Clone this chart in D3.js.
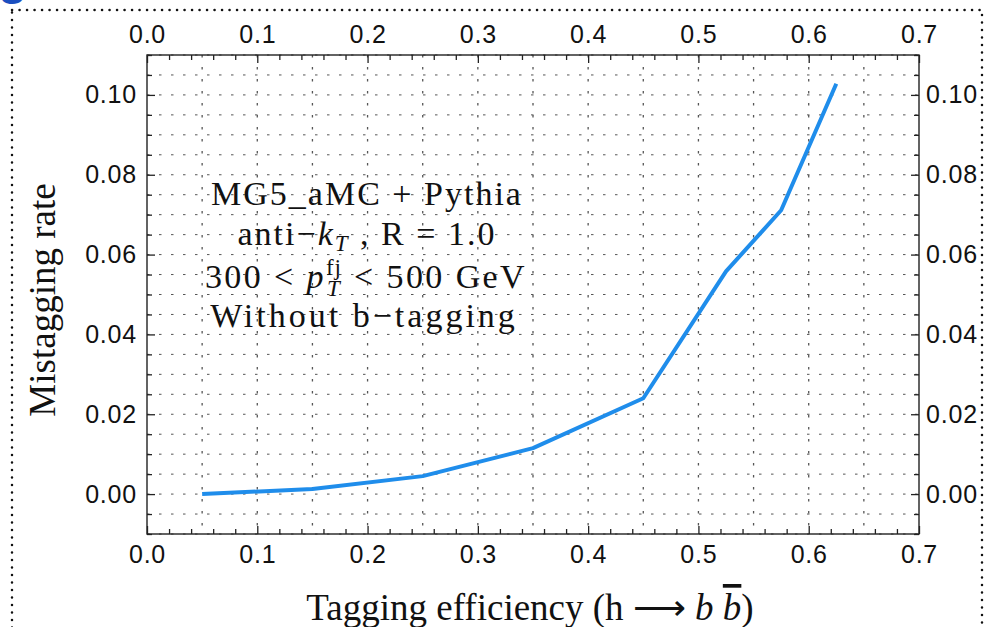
<!DOCTYPE html>
<html>
<head>
<meta charset="utf-8">
<script src="https://cdn.jsdelivr.net/npm/d3@7"></script>
<style>
  html, body { margin: 0; padding: 0; background: #fff; }
  svg { display: block; }
</style>
</head>
<body>
<div id="chart"></div>
<script>
// tagging efficiency vs. mistag rate (no b-tagging)
const efficiency = [0.05, 0.15, 0.25, 0.35, 0.45, 0.525, 0.575, 0.625];
const mistagRate = [0.0000, 0.0013, 0.0045, 0.0115, 0.0240, 0.0558, 0.0711, 0.1028];

const xMajor = [0, 0.1, 0.2, 0.3, 0.4, 0.5, 0.6, 0.7];
const yMajor = [0, 0.02, 0.04, 0.06, 0.08, 0.10];
const xGrid = [0.05, 0.1, 0.15, 0.2, 0.25, 0.3, 0.35, 0.4, 0.45, 0.5, 0.55, 0.6, 0.65];

const width = 987, height = 627;
const plot = {left: 147, right: 919, top: 55, bottom: 534};

const svg = d3.select("#chart").append("svg")
  .attr("width", width)
  .attr("height", height);

svg.append("rect").attr("width", width).attr("height", height).attr("fill", "#fff");

// cut-off heading glyph and dotted panel border
svg.append("text")
  .attr("x", -2).attr("y", -6)
  .attr("font-family", "Liberation Sans, Arial, sans-serif")
  .attr("font-weight", "bold")
  .attr("font-size", 48)
  .attr("fill", "#1a4fc0")
  .text("g");
svg.append("rect")
  .attr("x", 12).attr("y", 10)
  .attr("width", 970).attr("height", 700)
  .attr("fill", "none")
  .attr("stroke", "#111")
  .attr("stroke-width", 2.5)
  .attr("stroke-linecap", "round")
  .attr("stroke-dasharray", "0.1,7.4");

const x = d3.scaleLinear().domain([0, 0.7]).range([plot.left, plot.right]);
const y = d3.scaleLinear().domain([-0.01, 0.11]).range([plot.bottom, plot.top]);

const xMinor = d3.range(0, 0.7001, 0.02).filter(v => xMajor.every(m => Math.abs(m - v) > 1e-6));
const yMinor = d3.range(-0.01, 0.1101, 0.005).filter(v => yMajor.every(m => Math.abs(m - v) > 1e-6));
const yGrid = d3.range(-0.01, 0.1101, 0.005);

// dotted grid
const grid = svg.append("g")
  .attr("stroke", "#555")
  .attr("stroke-width", 1)
  .attr("stroke-dasharray", "2.5,9.5");
grid.selectAll("line.h").data(yGrid).join("line")
  .attr("class", "h")
  .attr("x1", plot.left).attr("x2", plot.right)
  .attr("y1", d => y(d)).attr("y2", d => y(d));
grid.selectAll("line.v").data(xGrid).join("line")
  .attr("class", "v")
  .attr("stroke-width", 1.3)
  .attr("y1", plot.top).attr("y2", plot.bottom)
  .attr("x1", d => x(d)).attr("x2", d => x(d));

// axes: major ticks with labels, then minor ticks, all pointing inward
const fmtX = d3.format(".1f"), fmtY = d3.format(".2f");
function styleAxis(g) {
  g.select(".domain").remove();
  g.selectAll("line").attr("stroke", "#222").attr("stroke-width", 1.3);
  g.selectAll("text")
    .attr("font-family", "Liberation Sans, Arial, sans-serif")
    .attr("font-size", 25)
    .attr("letter-spacing", 0.8)
    .attr("fill", "#111");
}
svg.append("g").attr("transform", `translate(0,${plot.bottom})`)
  .call(d3.axisBottom(x).tickValues(xMajor).tickFormat(fmtX).tickSize(-8).tickPadding(11)).call(styleAxis);
svg.append("g").attr("transform", `translate(0,${plot.bottom})`)
  .call(d3.axisBottom(x).tickValues(xMinor).tickFormat("").tickSize(-5)).call(styleAxis);
svg.append("g").attr("transform", `translate(0,${plot.top})`)
  .call(d3.axisTop(x).tickValues(xMajor).tickFormat(fmtX).tickSize(-8).tickPadding(12)).call(styleAxis);
svg.append("g").attr("transform", `translate(0,${plot.top})`)
  .call(d3.axisTop(x).tickValues(xMinor).tickFormat("").tickSize(-5)).call(styleAxis);
svg.append("g").attr("transform", `translate(${plot.left},0)`)
  .call(d3.axisLeft(y).tickValues(yMajor).tickFormat(fmtY).tickSize(-8).tickPadding(10)).call(styleAxis);
svg.append("g").attr("transform", `translate(${plot.left},0)`)
  .call(d3.axisLeft(y).tickValues(yMinor).tickFormat("").tickSize(-5)).call(styleAxis);
svg.append("g").attr("transform", `translate(${plot.right},0)`)
  .call(d3.axisRight(y).tickValues(yMajor).tickFormat(fmtY).tickSize(-8).tickPadding(7)).call(styleAxis);
svg.append("g").attr("transform", `translate(${plot.right},0)`)
  .call(d3.axisRight(y).tickValues(yMinor).tickFormat("").tickSize(-5)).call(styleAxis);

// frame
svg.append("rect")
  .attr("x", plot.left).attr("y", plot.top)
  .attr("width", plot.right - plot.left).attr("height", plot.bottom - plot.top)
  .attr("fill", "none").attr("stroke", "#222").attr("stroke-width", 1.4);

// curve
const points = efficiency.map((e, i) => [e, mistagRate[i]]);
svg.append("path")
  .datum(points)
  .attr("fill", "none")
  .attr("stroke", "#1f8deb")
  .attr("stroke-width", 4)
  .attr("stroke-linejoin", "round")
  .attr("d", d3.line().x(d => x(d[0])).y(d => y(d[1])));

// axis titles
const serif = "Liberation Serif, Times New Roman, serif";
const xt = svg.append("text")
  .attr("x", 530).attr("y", 620)
  .attr("text-anchor", "middle")
  .attr("font-family", serif).attr("font-size", 37)
  .attr("fill", "#111");
xt.append("tspan").text("Tagging efficiency (h ");
xt.append("tspan").text("\u27F6");
xt.append("tspan").text(" ");
xt.append("tspan").attr("font-style", "italic").text("b");
xt.append("tspan").text(" ");
xt.append("tspan").attr("font-style", "italic").attr("text-decoration", "overline").text("b");
xt.append("tspan").text(")");

svg.append("text")
  .attr("transform", "translate(55,300) rotate(-90)")
  .attr("text-anchor", "middle")
  .attr("font-family", serif).attr("font-size", 37)
  .attr("fill", "#111")
  .text("Mistagging rate");

// sample description
const note = svg.append("g")
  .attr("font-family", serif).attr("font-size", 34)
  .attr("letter-spacing", 2)
  .attr("fill", "#111")
  .attr("text-anchor", "middle");
note.append("text").attr("x", 367).attr("y", 205).text("MG5_aMC + Pythia");
const l2 = note.append("text").attr("x", 367).attr("y", 245);
l2.append("tspan").text("anti\u2212");
l2.append("tspan").attr("font-style", "italic").text("k");
l2.append("tspan").attr("font-style", "italic").attr("font-size", 23).attr("dy", 6).text("T");
l2.append("tspan").attr("dy", -6).text(" , R = 1.0");
const l3 = note.append("text").attr("x", 366).attr("y", 288).attr("letter-spacing", 2.4);
l3.append("tspan").text("300 < ");
l3.append("tspan").attr("font-style", "italic").text("p");
l3.append("tspan").attr("font-size", 23).attr("letter-spacing", 1).attr("dy", -13).text("fj");
l3.append("tspan").attr("font-style", "italic").attr("font-size", 23).attr("dx", -15).attr("dy", 21).text("T");
l3.append("tspan").attr("dx", 1).attr("dy", -8).text(" < 500 GeV");
note.append("text").attr("x", 364).attr("y", 327).attr("letter-spacing", 3).text("Without b\u2212tagging");
</script>
</body>
</html>
